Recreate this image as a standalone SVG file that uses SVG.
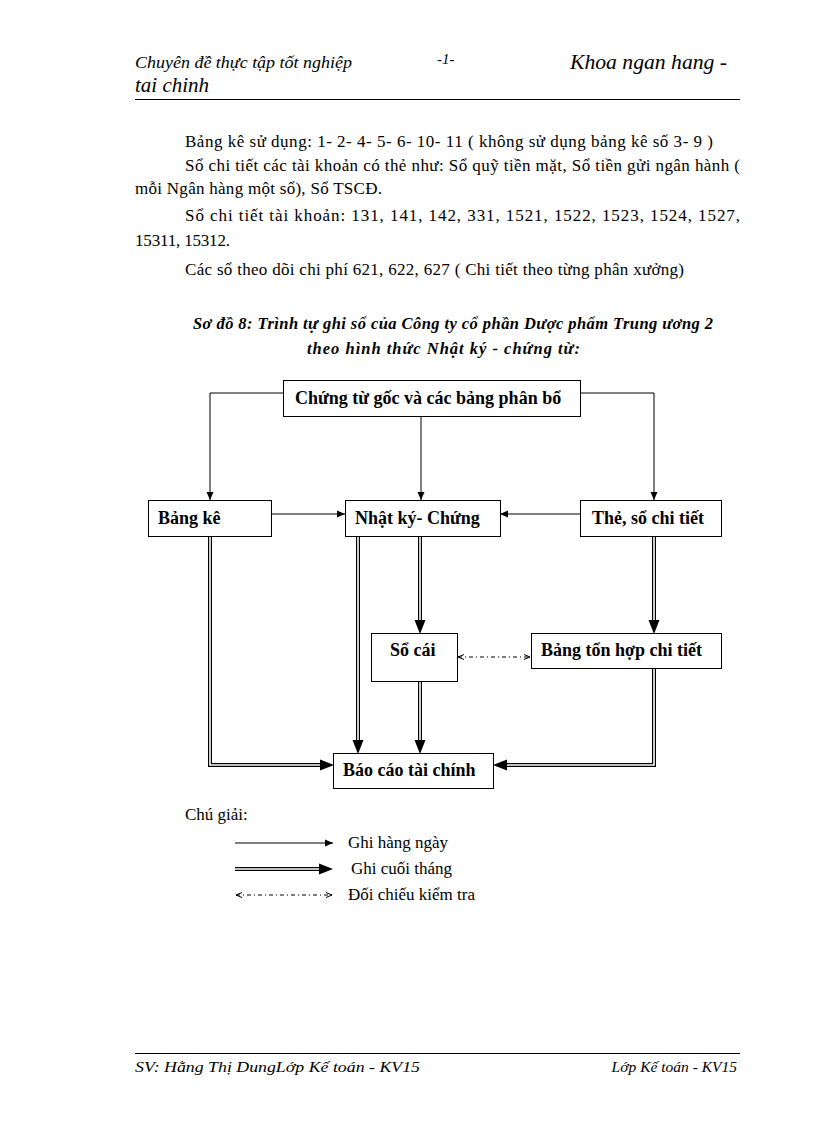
<svg xmlns="http://www.w3.org/2000/svg" width="816" height="1123" viewBox="0 0 816 1123">
<defs>
<style>
.hdr{font-family:"Liberation Serif","Times New Roman",serif;font-style:italic;fill:#000}
.body{font-family:"Liberation Serif","Times New Roman",serif;font-size:17px;fill:#000}
.ttl{font-family:"Liberation Serif","Times New Roman",serif;font-size:16.5px;font-weight:bold;font-style:italic;fill:#000}
.box{fill:#fff;stroke:#000;stroke-width:1}
.lbl{font-family:"Liberation Serif","Times New Roman",serif;font-size:18px;font-weight:bold;fill:#000}
.thin{fill:none;stroke:#000;stroke-width:1}
.dbl{fill:none;stroke:#000;stroke-width:4;stroke-linejoin:miter}
.dblin{fill:none;stroke:#fff;stroke-width:1.6;stroke-linejoin:miter}
.dash{fill:none;stroke:#000;stroke-width:1;stroke-dasharray:4 3 1 3}
.head{fill:#000}
</style>
<marker id="arr" viewBox="0 0 8 8" refX="8" refY="4" markerWidth="8" markerHeight="8" markerUnits="userSpaceOnUse" orient="auto">
<path d="M0,0.5 L8,4 L0,7.5 Z" fill="#000"/>
</marker>
<marker id="sarr" viewBox="0 0 6 6" refX="6" refY="3" markerWidth="6" markerHeight="6" markerUnits="userSpaceOnUse" orient="auto-start-reverse">
<path d="M0,0.5 L6,3 L0,5.5" fill="none" stroke="#000" stroke-width="1"/>
</marker>
</defs>
<rect width="816" height="1123" fill="#fff"/>

<g id="header">
<text class="hdr" x="135" y="68" font-size="16" textLength="217" lengthAdjust="spacingAndGlyphs">Chuyên đề thực tập tốt nghiệp</text>
<text class="hdr" x="437" y="64" font-size="15" font-style="normal">-1-</text>
<text class="hdr" x="570" y="69" font-size="21" textLength="157" lengthAdjust="spacingAndGlyphs">Khoa ngan hang -</text>
<text class="hdr" x="135" y="92" font-size="21">tai chinh</text>
<line x1="135" y1="99.5" x2="740" y2="99.5" stroke="#000" stroke-width="1"/>
</g>

<g id="body-text">
<text class="body" x="185" y="147" textLength="528" lengthAdjust="spacing">Bảng kê sử dụng: 1- 2- 4- 5- 6- 10- 11 ( không sử dụng bảng kê số 3- 9 )</text>
<text class="body" x="185" y="171" textLength="555" lengthAdjust="spacing">Sổ chi tiết các tài khoản có thẻ như: Sổ quỹ tiền mặt, Sổ tiền gửi ngân hành (</text>
<text class="body" x="135" y="194" textLength="247" lengthAdjust="spacing">mỗi Ngân hàng một sổ), Sổ TSCĐ.</text>
<text class="body" x="185" y="221" textLength="555" lengthAdjust="spacing">Sổ chi tiết tài khoản: 131, 141, 142, 331, 1521, 1522, 1523, 1524, 1527,</text>
<text class="body" x="135" y="246" textLength="95" lengthAdjust="spacing">15311, 15312.</text>
<text class="body" x="185" y="275" textLength="499" lengthAdjust="spacing">Các sổ theo dõi chi phí 621, 622, 627 ( Chi tiết theo từng phân xưởng)</text>
</g>

<g id="title">
<text class="ttl" x="193" y="329" textLength="520" lengthAdjust="spacing">Sơ đồ 8: Trình tự ghi sổ của Công ty cổ phần Dược phẩm Trung ương 2</text>
<text class="ttl" x="307" y="354" textLength="273" lengthAdjust="spacing">theo hình thức Nhật ký - chứng từ:</text>
</g>

<g id="connectors">
<path class="thin" d="M283,393 H210 V500" marker-end="url(#arr)"/>
<path class="thin" d="M421,416 V500" marker-end="url(#arr)"/>
<path class="thin" d="M580,393 H654 V500" marker-end="url(#arr)"/>
<path class="thin" d="M272,514 H345" marker-end="url(#arr)"/>
<path class="thin" d="M580,514 H500" marker-end="url(#arr)"/>
<path class="dash" d="M458,657 H530" marker-start="url(#sarr)" marker-end="url(#sarr)"/>

<path class="dbl" d="M420,536 V621"/><path class="dblin" d="M420,536 V621"/>
<polygon class="head" points="414.5,620 425.5,620 420,634"/>
<path class="dbl" d="M654,536 V621"/><path class="dblin" d="M654,536 V621"/>
<polygon class="head" points="648.5,620 659.5,620 654,634"/>
<path class="dbl" d="M358,536 V741"/><path class="dblin" d="M358,536 V741"/>
<polygon class="head" points="352.5,740 363.5,740 358,754"/>
<path class="dbl" d="M420,682 V741"/><path class="dblin" d="M420,682 V741"/>
<polygon class="head" points="414.5,740 425.5,740 420,754"/>
<path class="dbl" d="M210,536 V765 H321"/><path class="dblin" d="M210,536 V765 H321"/>
<polygon class="head" points="320,759.5 320,770.5 334,765"/>
<path class="dbl" d="M654,668 V765 H506"/><path class="dblin" d="M654,668 V765 H506"/>
<polygon class="head" points="507,759.5 507,770.5 493,765"/>
</g>

<g id="node-chung-tu">
<rect class="box" x="283.5" y="380.5" width="297" height="36"/>
<text class="lbl" x="295" y="404">Chứng từ gốc và các bảng phân bổ</text>
</g>
<g id="node-bang-ke">
<rect class="box" x="148.5" y="500.5" width="123" height="36"/>
<text class="lbl" x="158" y="524">Bảng kê</text>
</g>
<g id="node-nhat-ky">
<rect class="box" x="345.5" y="500.5" width="155" height="36"/>
<text class="lbl" x="355" y="524">Nhật ký- Chứng</text>
</g>
<g id="node-the-so">
<rect class="box" x="580.5" y="500.5" width="141" height="36"/>
<text class="lbl" x="592" y="524">Thẻ, sổ chi tiết</text>
</g>
<g id="node-so-cai">
<rect class="box" x="371.5" y="633.5" width="86" height="48"/>
<text class="lbl" x="390" y="656">Sổ cái</text>
</g>
<g id="node-bang-tong-hop">
<rect class="box" x="531.5" y="633.5" width="190" height="35"/>
<text class="lbl" x="541" y="656">Bảng tổn hợp chi tiết</text>
</g>
<g id="node-bao-cao">
<rect class="box" x="333.5" y="753.5" width="160" height="35"/>
<text class="lbl" x="343" y="776">Báo cáo tài chính</text>
</g>

<g id="legend">
<text class="body" x="185" y="820">Chú giải:</text>
<path class="thin" d="M235,843 H333" marker-end="url(#arr)"/>
<text class="body" x="348" y="848">Ghi hàng ngày</text>
<path class="dbl" d="M235,869 H320"/><path class="dblin" d="M235,869 H320"/>
<polygon class="head" points="319,863.5 319,874.5 333,869"/>
<text class="body" x="351" y="874">Ghi cuối tháng</text>
<path class="dash" d="M236,895 H332" marker-start="url(#sarr)" marker-end="url(#sarr)"/>
<text class="body" x="348" y="900">Đối chiếu kiểm tra</text>
</g>

<g id="footer">
<line x1="135" y1="1053.5" x2="740" y2="1053.5" stroke="#000" stroke-width="1"/>
<text class="hdr" x="135" y="1072" font-size="15.5" textLength="285" lengthAdjust="spacingAndGlyphs">SV: Hằng Thị DungLớp Kế toán - KV15</text>
<text class="hdr" x="737" y="1072" font-size="15.5" text-anchor="end">Lớp Kế toán - KV15</text>
</g>
</svg>
